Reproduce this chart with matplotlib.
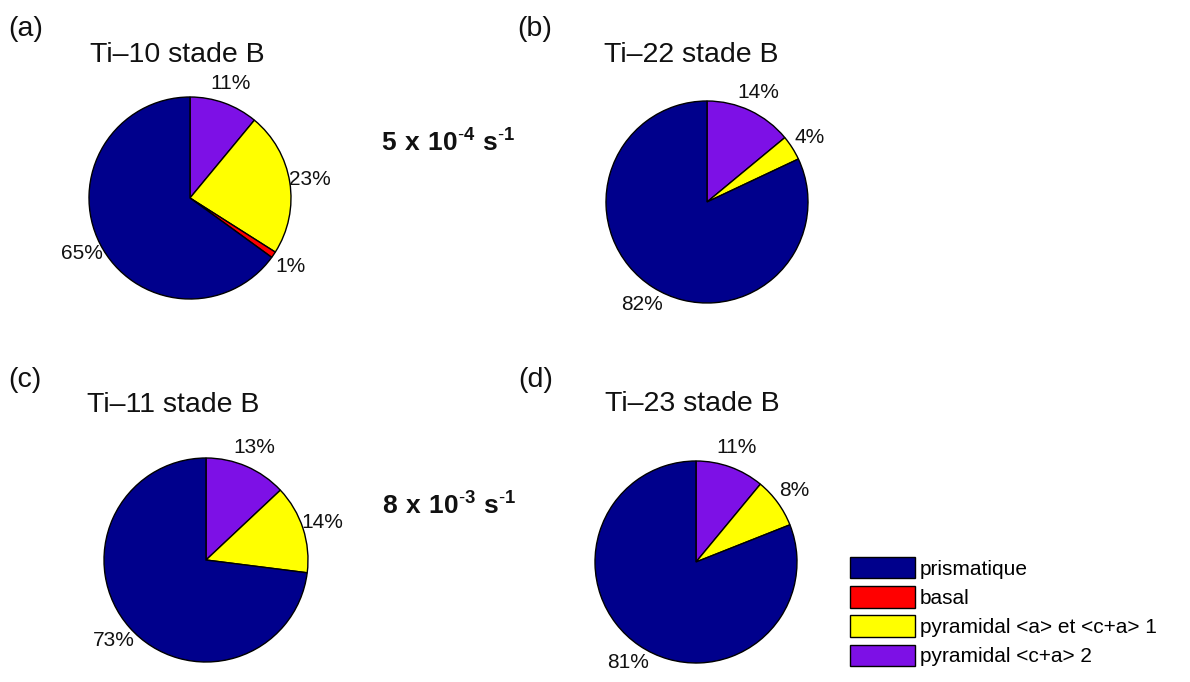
import matplotlib
matplotlib.use('Agg')
from matplotlib import pyplot as plt
from matplotlib.patches import Patch

plt.rcParams['font.family'] = ['Liberation Sans', 'DejaVu Sans']
plt.rcParams['mathtext.fontset'] = 'custom'
plt.rcParams['mathtext.rm'] = 'Liberation Sans'
plt.rcParams['mathtext.bf'] = 'Liberation Sans:bold'

# slip systems, in legend order
categories = ['prismatique', 'basal', 'pyramidal <a> et <c+a> 1', 'pyramidal <c+a> 2']
colors = ['#00008c', '#ff0000', '#ffff00', '#7d10e6']

titles = ['Ti\u201310 stade B', 'Ti\u201322 stade B', 'Ti\u201311 stade B', 'Ti\u201323 stade B']
panels = ['(a)', '(b)', '(c)', '(d)']

# percentages per sample: prismatique, basal, pyramidal 1, pyramidal 2
ti10 = [65, 1, 23, 11]
ti22 = [82, 0, 4, 14]
ti11 = [73, 0, 14, 13]
ti23 = [81, 0, 8, 11]
samples = [ti10, ti22, ti11, ti23]

rates = [r'$\mathbf{5\ x\ 10^{\text{-}4}\ s^{\text{-}1}}$', r'$\mathbf{8\ x\ 10^{\text{-}3}\ s^{\text{-}1}}$']

W, H = 1190, 682
fig = plt.figure(figsize=(W / 100, H / 100), dpi=100)

# pie centre (px) and radius (px)
pie_pos = [(190, 198, 101), (707, 202, 101), (206, 560, 102), (696, 562, 101)]
title_pos = [(177, 62), (691, 62), (173, 412), (692, 411)]
panel_pos = [(8, 36), (517, 36), (8, 387), (518, 387)]
rate_pos = [(448, 152), (449, 515)]


def fx(x):
    return x / W


def fy(y):
    return 1 - y / H


for i, vals in enumerate(samples):
    cx, cy, r = pie_pos[i]
    ax = fig.add_axes([fx(cx - r), fy(cy + r), 2 * r / W, 2 * r / H])
    # clockwise from the top: pyramidal 2, pyramidal 1, basal, prismatique
    order = [3, 2, 1, 0]
    v = [vals[k] for k in order if vals[k] > 0]
    c = [colors[k] for k in order if vals[k] > 0]
    lab = ['%d%%' % vals[k] for k in order if vals[k] > 0]
    wedges, texts = ax.pie(v, colors=c, labels=lab, startangle=90, counterclock=False,
                           labeldistance=1.2,
                           wedgeprops=dict(edgecolor='black', linewidth=1.0))
    for t in texts:
        t.set_ha('center')
        t.set_va('center')
        t.set_fontsize(15)
        t.set_color('#111111')
    ax.set_xlim(-1, 1)
    ax.set_ylim(-1, 1)
    ax.set_aspect('auto')

    tx, ty = title_pos[i]
    fig.text(fx(tx), fy(ty), titles[i], ha='center', va='baseline', fontsize=20.5, color='#111111')
    px, py = panel_pos[i]
    fig.text(fx(px), fy(py), panels[i], ha='left', va='baseline', fontsize=20.5, color='#111111')

for j, s in enumerate(rates):
    rx, ry = rate_pos[j]
    fig.text(fx(rx), fy(ry), s, ha='center', va='baseline', fontsize=19, color='#111111')

handles = [Patch(facecolor=col, edgecolor='black', linewidth=1.0) for col in colors]
fig.legend(handles, categories, loc='upper left', bbox_to_anchor=(fx(850), fy(557)),
           frameon=False, borderpad=0, borderaxespad=0, fontsize=15,
           handlelength=3.1, handleheight=1.2, handletextpad=0.25, labelspacing=0.36)

fig.savefig('out.png', dpi=100)
